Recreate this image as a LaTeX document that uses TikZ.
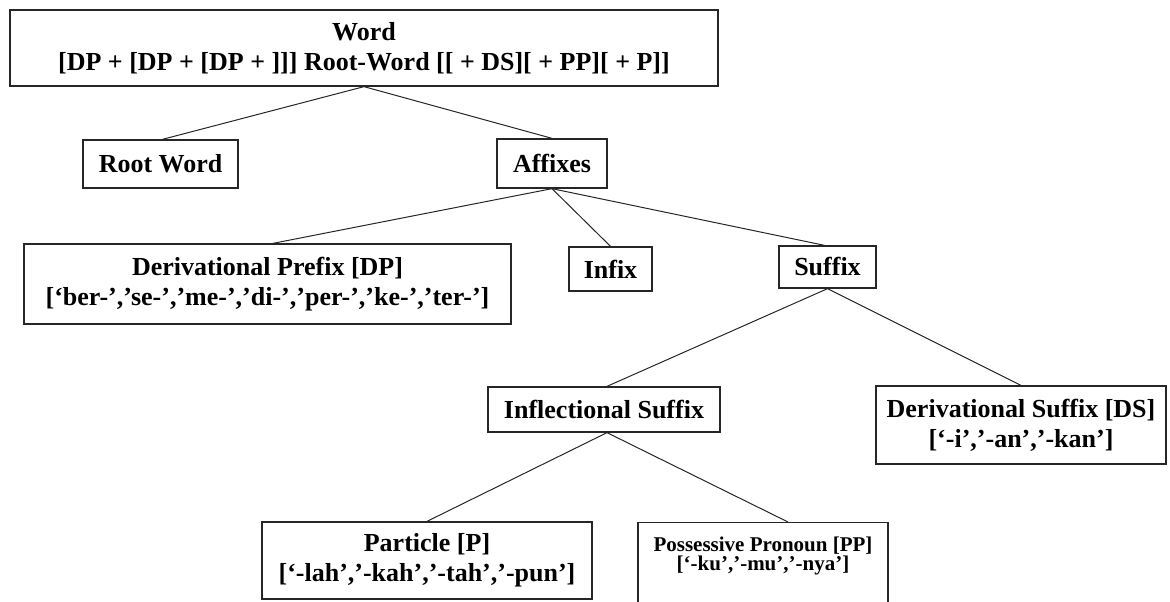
\documentclass[tikz,border=0pt]{standalone}
\usepackage{fontspec}
\setmainfont{Liberation Serif}
\begin{document}
\begin{tikzpicture}[x=1pt,y=-1pt,
  box/.style={draw=black!85,line width=1.3pt,rectangle,inner sep=0pt,align=center,
    font=\bfseries\fontsize{26}{30}\selectfont},
  link/.style={draw=black!85,line width=1pt}]
\useasboundingbox (0,0) rectangle (1170,602);
\clip (0,0) rectangle (1170,602);
\node[box,minimum width=708pt,minimum height=76pt] (word) at (364,48)
  {Word\\{}[DP + [DP + [DP + ]]] Root-Word [[ + DS][ + PP][ + P]]};
\node[box,minimum width=155pt,minimum height=48pt] (root) at (160.5,164) {Root Word};
\node[box,minimum width=110pt,minimum height=49pt] (aff) at (552,163.5) {Affixes};
\node[box,minimum width=487pt,minimum height=80pt] (dp) at (267.5,284)
  {Derivational Prefix [DP]\\{}[‘ber-’,’se-’,’me-’,’di-’,’per-’,’ke-’,’ter-’]};
\node[box,minimum width=83pt,minimum height=44pt] (infix) at (610.5,269) {Infix};
\node[box,minimum width=97pt,minimum height=42pt] (suffix) at (827.5,267) {Suffix};
\node[box,minimum width=232pt,minimum height=45pt] (infl) at (604,409.5) {Inflectional Suffix};
\node[box,minimum width=290pt,minimum height=78pt] (ds) at (1021,425)
  {Derivational Suffix [DS]\\{}[‘-i’,’-an’,’-kan’]};
\node[box,minimum width=330pt,minimum height=77pt] (part) at (427,560.5)
  {Particle [P]\\{}[‘-lah’,’-kah’,’-tah’,’-pun’]};
\node[box,minimum width=250pt,anchor=north,font=\bfseries\fontsize{21}{19}\selectfont] (poss) at (763,522)
  {\rule{0pt}{29pt}Possessive Pronoun [PP]\\{}[‘-ku’,’-mu’,’-nya’]\rule[-42pt]{0pt}{42pt}};
\draw[link] (word.south) -- ([xshift=2pt]root.north);
\draw[link] (word.south) -- (aff.north);
\draw[link] (aff.south) -- ([xshift=5.5pt]dp.north);
\draw[link] (aff.south) -- (infix.north);
\draw[link] (aff.south) -- ([xshift=-3pt]suffix.north);
\draw[link] (suffix.south) -- ([xshift=3pt]infl.north);
\draw[link] (suffix.south) -- (ds.north);
\draw[link] ([xshift=3pt]infl.south) -- (part.north);
\draw[link] ([xshift=3pt]infl.south) -- ([xshift=25pt]poss.north);
\end{tikzpicture}
\end{document}
